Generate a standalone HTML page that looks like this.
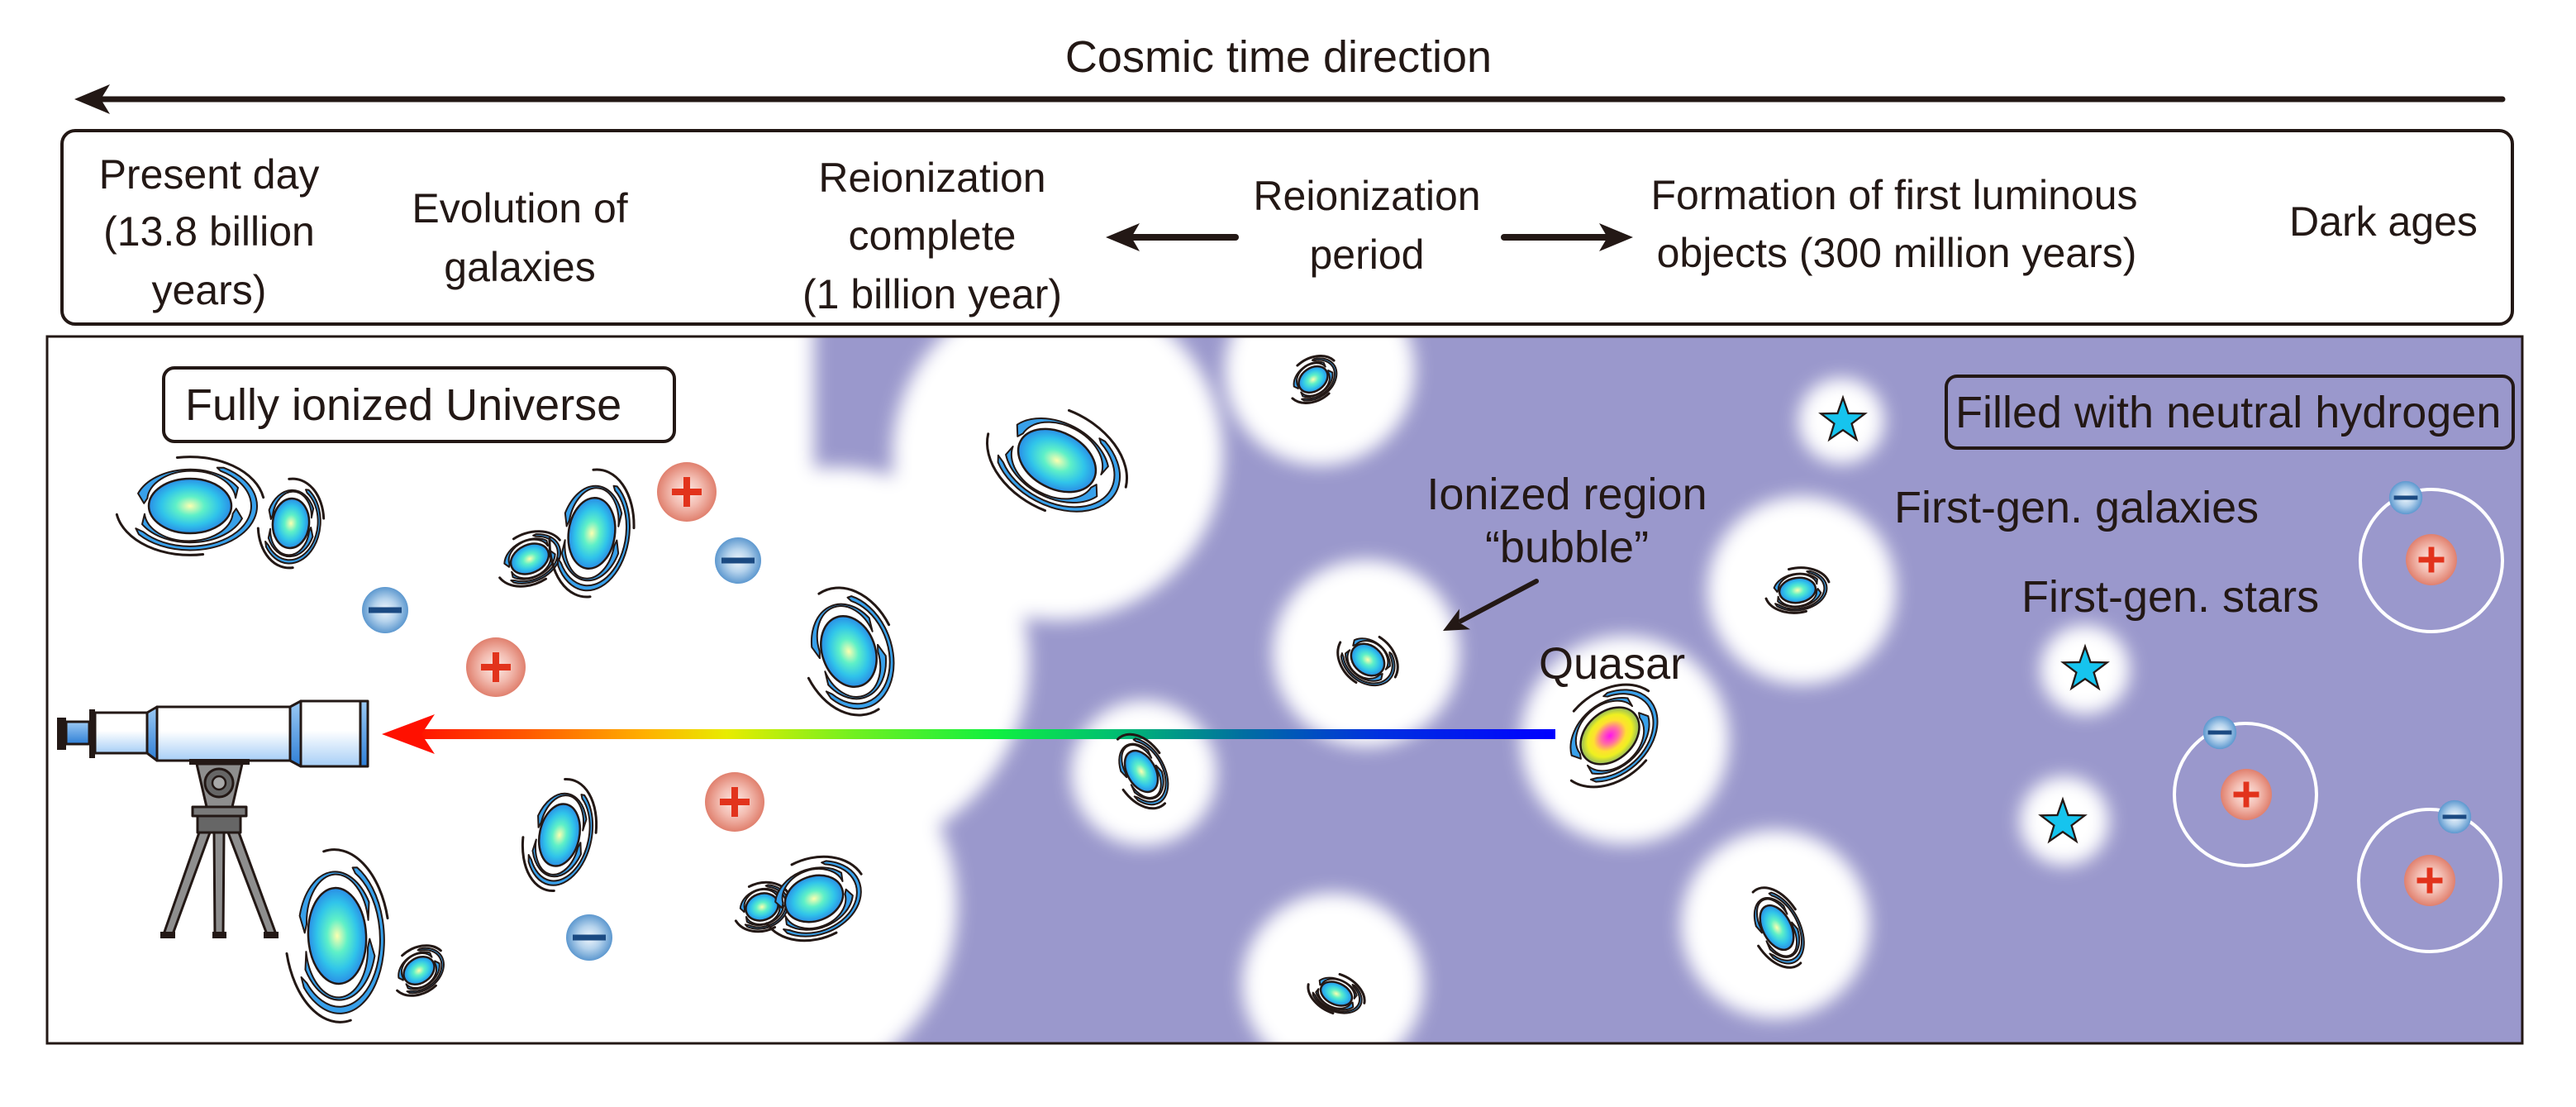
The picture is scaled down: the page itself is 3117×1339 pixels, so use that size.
<!DOCTYPE html>
<html><head><meta charset="utf-8">
<style>
html,body{margin:0;padding:0;background:#fff;}
svg{display:block;}
text{font-family:"Liberation Sans",Arial,sans-serif;fill:#231815;}
.k{fill:none;stroke:#231815;stroke-width:3;vector-effect:non-scaling-stroke;stroke-linecap:round;}
.b{fill:#38a0ea;stroke:#231815;stroke-width:2;vector-effect:non-scaling-stroke;stroke-linejoin:round;}
.o{stroke:#231815;stroke-width:2.5;vector-effect:non-scaling-stroke;}
.tl{stroke:#231815;stroke-width:3;stroke-linejoin:round;}
</style></head><body>
<svg width="3117" height="1339" viewBox="0 0 3117 1339" xmlns="http://www.w3.org/2000/svg">
<defs>
  <clipPath id="pc"><rect x="57" y="407" width="2995" height="855"/></clipPath>
  <filter id="bl" filterUnits="userSpaceOnUse" x="0" y="300" width="3117" height="1100">
    <feGaussianBlur stdDeviation="11"/>
  </filter>
  <radialGradient id="gcore" cx="0.5" cy="0.5" r="0.5">
    <stop offset="0" stop-color="#fdffb0"/>
    <stop offset="0.35" stop-color="#5ef0c8"/>
    <stop offset="0.7" stop-color="#30c4ea"/>
    <stop offset="1" stop-color="#2a8ee6"/>
  </radialGradient>
  <radialGradient id="qcore" cx="0.5" cy="0.5" r="0.5">
    <stop offset="0" stop-color="#ff10f0"/>
    <stop offset="0.3" stop-color="#ff70a0"/>
    <stop offset="0.55" stop-color="#ffe030"/>
    <stop offset="0.75" stop-color="#eef020"/>
    <stop offset="1" stop-color="#90b860"/>
  </radialGradient>
  <radialGradient id="pro" cx="0.5" cy="0.5" r="0.5">
    <stop offset="0" stop-color="#fbeae6"/>
    <stop offset="0.5" stop-color="#f3bdb2"/>
    <stop offset="1" stop-color="#e0806e"/>
  </radialGradient>
  <radialGradient id="ele" cx="0.5" cy="0.5" r="0.5">
    <stop offset="0" stop-color="#f0f6fc"/>
    <stop offset="0.5" stop-color="#b4d2ec"/>
    <stop offset="1" stop-color="#5d98cf"/>
  </radialGradient>
  <linearGradient id="beam" gradientUnits="userSpaceOnUse" x1="470" y1="0" x2="1882" y2="0">
    <stop offset="0" stop-color="#ff0000"/>
    <stop offset="0.12" stop-color="#ff5a00"/>
    <stop offset="0.22" stop-color="#ffb000"/>
    <stop offset="0.29" stop-color="#e8ec00"/>
    <stop offset="0.40" stop-color="#70f020"/>
    <stop offset="0.52" stop-color="#10f040"/>
    <stop offset="0.62" stop-color="#00c070"/>
    <stop offset="0.73" stop-color="#0070a0"/>
    <stop offset="0.85" stop-color="#0030e0"/>
    <stop offset="1" stop-color="#0000ff"/>
  </linearGradient>
  <linearGradient id="tube" x1="0" y1="0" x2="0" y2="1">
    <stop offset="0" stop-color="#ffffff"/>
    <stop offset="0.45" stop-color="#ffffff"/>
    <stop offset="1" stop-color="#a6cef6"/>
  </linearGradient>
  <linearGradient id="blu" x1="0" y1="0" x2="0" y2="1">
    <stop offset="0" stop-color="#9ccaf4"/>
    <stop offset="1" stop-color="#2f7fd6"/>
  </linearGradient>

  <g id="gal">
    <path class="k" d="M -0.313 -1.773 A 1.8 1.8 0 0 1 1.773 -0.313"/>
    <path class="k" d="M 0.313 1.773 A 1.8 1.8 0 0 1 -1.773 0.313"/>
    <path class="b" d="M 0.655 -1.405 L 0.81 -1.403 A 1.62 1.62 0 1 1 -1.241 1.041 L -1.314 0.821 L -1.134 0.951 A 1.48 1.48 0 1 0 0.74 -1.282 Z"/>
    <path class="b" d="M -1.116 -0.098 L -1.259 -0.458 A 1.34 1.34 0 0 1 1.160 -0.670 L 1.101 -0.295 A 1.07 1.07 0 0 0 -1.034 -0.277 Z"/>
    <path class="b" d="M 1.116 0.098 L 1.259 0.458 A 1.34 1.34 0 0 1 -1.160 0.670 L -1.101 0.295 A 1.07 1.07 0 0 0 1.034 0.277 Z"/>
    <circle r="1" fill="url(#gcore)" class="o"/>
  </g>
  <g id="qso">
    <path class="k" d="M -0.313 -1.773 A 1.8 1.8 0 0 1 1.773 -0.313"/>
    <path class="k" d="M 0.313 1.773 A 1.8 1.8 0 0 1 -1.773 0.313"/>
    <path class="b" d="M 0.655 -1.405 L 0.81 -1.403 A 1.62 1.62 0 1 1 -1.241 1.041 L -1.314 0.821 L -1.134 0.951 A 1.48 1.48 0 1 0 0.74 -1.282 Z"/>
    <path class="b" d="M -1.116 -0.098 L -1.259 -0.458 A 1.34 1.34 0 0 1 1.160 -0.670 L 1.101 -0.295 A 1.07 1.07 0 0 0 -1.034 -0.277 Z"/>
    <path class="b" d="M 1.116 0.098 L 1.259 0.458 A 1.34 1.34 0 0 1 -1.160 0.670 L -1.101 0.295 A 1.07 1.07 0 0 0 1.034 0.277 Z"/>
    <circle r="1" fill="url(#qcore)" class="o"/>
  </g>
  <path id="star" d="M0,-30 L7.05,-9.71 L28.53,-9.27 L11.41,3.71 L17.63,24.27 L0,12 L-17.63,24.27 L-11.41,3.71 L-28.53,-9.27 L-7.05,-9.71 Z" fill="#16c4ee" stroke="#231815" stroke-width="2.5" stroke-linejoin="miter"/>
  <g id="P">
    <circle r="36" fill="url(#pro)"/>
    <rect x="-18" y="-4" width="36" height="8" fill="#e2331c"/>
    <rect x="-4" y="-18" width="8" height="36" fill="#e2331c"/>
  </g>
  <g id="E">
    <circle r="28" fill="url(#ele)"/>
    <rect x="-20" y="-3.5" width="40" height="7" fill="#1b4a82"/>
  </g>
</defs>

<!-- Title and time arrow -->
<text x="1547" y="87" font-size="54" text-anchor="middle">Cosmic time direction</text>
<line x1="120" y1="120" x2="3028" y2="120" stroke="#231815" stroke-width="7" stroke-linecap="round"/>
<path d="M90 120 L133 102 L122 120 L133 138 Z" fill="#231815"/>

<!-- Top box -->
<rect x="75" y="158" width="2965" height="234" rx="16" fill="#fff" stroke="#231815" stroke-width="4"/>
<g font-size="50" text-anchor="middle">
  <text x="253" y="228">Present day</text>
  <text x="253" y="297">(13.8 billion</text>
  <text x="253" y="368">years)</text>
  <text x="629" y="269">Evolution of</text>
  <text x="629" y="340">galaxies</text>
  <text x="1128" y="232">Reionization</text>
  <text x="1128" y="302">complete</text>
  <text x="1128" y="373">(1 billion year)</text>
  <text x="1654" y="254">Reionization</text>
  <text x="1654" y="325">period</text>
  <text x="2292" y="253">Formation of first luminous</text>
  <text x="2295" y="323">objects (300 million years)</text>
  <text x="2884" y="285">Dark ages</text>
</g>
<line x1="1365" y1="287" x2="1495" y2="287" stroke="#231815" stroke-width="8" stroke-linecap="round"/>
<path d="M1338 287 L1379 270 L1369 287 L1379 304 Z" fill="#231815"/>
<line x1="1820" y1="287" x2="1948" y2="287" stroke="#231815" stroke-width="8" stroke-linecap="round"/>
<path d="M1976 287 L1935 270 L1945 287 L1935 304 Z" fill="#231815"/>

<!-- Bottom panel -->
<g clip-path="url(#pc)">
  <rect x="57" y="407" width="2995" height="855" fill="#9a98cc"/>
  <g filter="url(#bl)" fill="#ffffff">
    <rect x="-100" y="300" width="1085" height="1100"/>
    <circle cx="1280" cy="550" r="200"/>
    <circle cx="1010" cy="800" r="235"/>
    <circle cx="930" cy="1095" r="228"/>
    <circle cx="1384" cy="935" r="88"/>
    <circle cx="1597" cy="448" r="115"/>
    <circle cx="1653" cy="790" r="113"/>
    <circle cx="1966" cy="895" r="126"/>
    <circle cx="1613" cy="1190" r="110"/>
    <circle cx="2180" cy="714" r="114"/>
    <circle cx="2148" cy="1118" r="114"/>
    <circle cx="2228" cy="509" r="52"/>
    <circle cx="2523" cy="810" r="54"/>
    <circle cx="2498" cy="993" r="54"/>
  </g>
</g>
<rect x="57" y="407" width="2995" height="855" fill="none" stroke="#231815" stroke-width="3"/>

<!-- Labels -->
<rect x="198" y="445" width="618" height="89" rx="13" fill="#fff" stroke="#231815" stroke-width="4"/>
<text x="224" y="508" font-size="54">Fully ionized Universe</text>
<rect x="2355" y="455" width="686" height="87" rx="13" fill="none" stroke="#231815" stroke-width="4"/>
<text x="2366" y="517" font-size="54">Filled with neutral hydrogen</text>
<text x="2292" y="632" font-size="54">First-gen. galaxies</text>
<text x="2446" y="740" font-size="54">First-gen. stars</text>
<text x="1896" y="616" font-size="54" text-anchor="middle">Ionized region</text>
<text x="1896" y="680" font-size="54" text-anchor="middle">“bubble”</text>
<text x="1862" y="821" font-size="54">Quasar</text>
<line x1="1859" y1="703" x2="1768" y2="751" stroke="#231815" stroke-width="6" stroke-linecap="round"/>
<path d="M1746 763 L1779.1 761.3 L1765.4 752.7 L1765.9 736.5 Z" fill="#231815"/>

<!-- Charges -->
<use href="#P" transform="translate(831,595)"/>
<use href="#P" transform="translate(600,807)"/>
<use href="#P" transform="translate(889,970)"/>
<use href="#E" transform="translate(893,678)"/>
<use href="#E" transform="translate(466,738)"/>
<use href="#E" transform="translate(713,1134)"/>

<!-- Atoms -->
<circle cx="2942" cy="678" r="86" fill="none" stroke="#fff" stroke-width="4"/>
<circle cx="2717" cy="961" r="86" fill="none" stroke="#fff" stroke-width="4"/>
<circle cx="2940" cy="1065" r="86" fill="none" stroke="#fff" stroke-width="4"/>
<use href="#P" transform="translate(2942,677) scale(0.86)"/>
<use href="#P" transform="translate(2718,961) scale(0.86)"/>
<use href="#P" transform="translate(2940,1065) scale(0.86)"/>
<use href="#E" transform="translate(2911,602) scale(0.72)"/>
<use href="#E" transform="translate(2686,886) scale(0.72)"/>
<use href="#E" transform="translate(2970,988) scale(0.72)"/>

<!-- Stars -->
<use href="#star" transform="translate(2230,509) scale(0.93)"/>
<use href="#star" transform="translate(2523,810) scale(0.93)"/>
<use href="#star" transform="translate(2496,995) scale(0.93)"/>

<!-- Galaxies -->
<use href="#gal" transform="translate(230,612) scale(50,33)"/>
<use href="#gal" transform="translate(352,633) rotate(5) scale(22,30)"/>
<use href="#gal" transform="translate(641,676) rotate(-25) scale(24,17)"/>
<use href="#gal" transform="translate(716,645) rotate(8) scale(28,43)"/>
<use href="#gal" transform="translate(1027,788) rotate(-20) scale(32,44)"/>
<use href="#gal" transform="translate(677,1010) rotate(12) scale(24,38)"/>
<use href="#gal" transform="translate(922,1097) rotate(-20) scale(20,16)"/>
<use href="#gal" transform="translate(985,1087) rotate(-20) scale(36,27)"/>
<use href="#gal" transform="translate(408,1132) rotate(-3) scale(35,58)"/>
<use href="#gal" transform="translate(507,1174) rotate(-35) scale(20,15)"/>
<use href="#gal" transform="translate(1279,557) rotate(28) scale(50,34)"/>
<use href="#gal" transform="translate(1589,459) rotate(-35) scale(19,14)"/>
<use href="#gal" transform="translate(1655,798) rotate(40) scale(22,17)"/>
<use href="#gal" transform="translate(1617,1202) rotate(25) scale(20,13)"/>
<use href="#gal" transform="translate(2175,714) rotate(-8) scale(22,15)"/>
<use href="#gal" transform="translate(2150,1122) rotate(-28) scale(17,29)"/>

<!-- Beam -->
<rect x="505" y="882" width="1377" height="12" fill="url(#beam)"/>
<path d="M462 888 L526 864 L510 888 L526 912 Z" fill="#ff1000"/>
<use href="#gal" transform="translate(1381,933) rotate(-30) scale(17,27)"/>
<use href="#qso" transform="translate(1948,890) rotate(-42) scale(40,29)"/>

<!-- Telescope -->
<g>
  <rect x="69" y="868" width="11" height="39" fill="#231815"/>
  <rect x="80" y="873" width="28" height="27" fill="url(#blu)" class="tl"/>
  <rect x="108" y="858" width="7" height="59" fill="#231815"/>
  <rect x="115" y="862" width="63" height="49" fill="url(#tube)" class="tl"/>
  <polygon points="178,862 190,855 190,920 178,911" fill="url(#blu)" class="tl"/>
  <rect x="190" y="855" width="161" height="65" fill="url(#tube)" class="tl"/>
  <polygon points="351,855 364,848 364,927 351,920" fill="url(#blu)" class="tl"/>
  <rect x="364" y="848" width="72" height="79" fill="url(#tube)" class="tl"/>
  <rect x="436" y="848" width="9" height="79" fill="url(#blu)" class="tl"/>
  <rect x="229" y="918" width="73" height="7" fill="#231815"/>
  <polygon points="238,924 293,924 281,976 250,976" fill="#8e8e8e" class="tl"/>
  <circle cx="265" cy="947" r="17" fill="#666666" class="tl"/>
  <circle cx="265" cy="947" r="8" fill="#a8a8a8" stroke="#231815" stroke-width="2.5"/>
  <polygon points="241,1007 254,1007 209,1130 198,1130" fill="#8e8e8e" class="tl"/>
  <polygon points="259,1007 271,1007 270,1130 260,1130" fill="#8e8e8e" class="tl"/>
  <polygon points="276,1007 289,1007 334,1130 323,1130" fill="#8e8e8e" class="tl"/>
  <rect x="239" y="987" width="52" height="20" fill="#666666" class="tl"/>
  <rect x="233" y="976" width="65" height="11" fill="#7a7a7a" class="tl"/>
  <rect x="194" y="1127" width="18" height="8" fill="#231815"/>
  <rect x="257" y="1127" width="17" height="8" fill="#231815"/>
  <rect x="319" y="1127" width="18" height="8" fill="#231815"/>
</g>
</svg>
</body></html>
